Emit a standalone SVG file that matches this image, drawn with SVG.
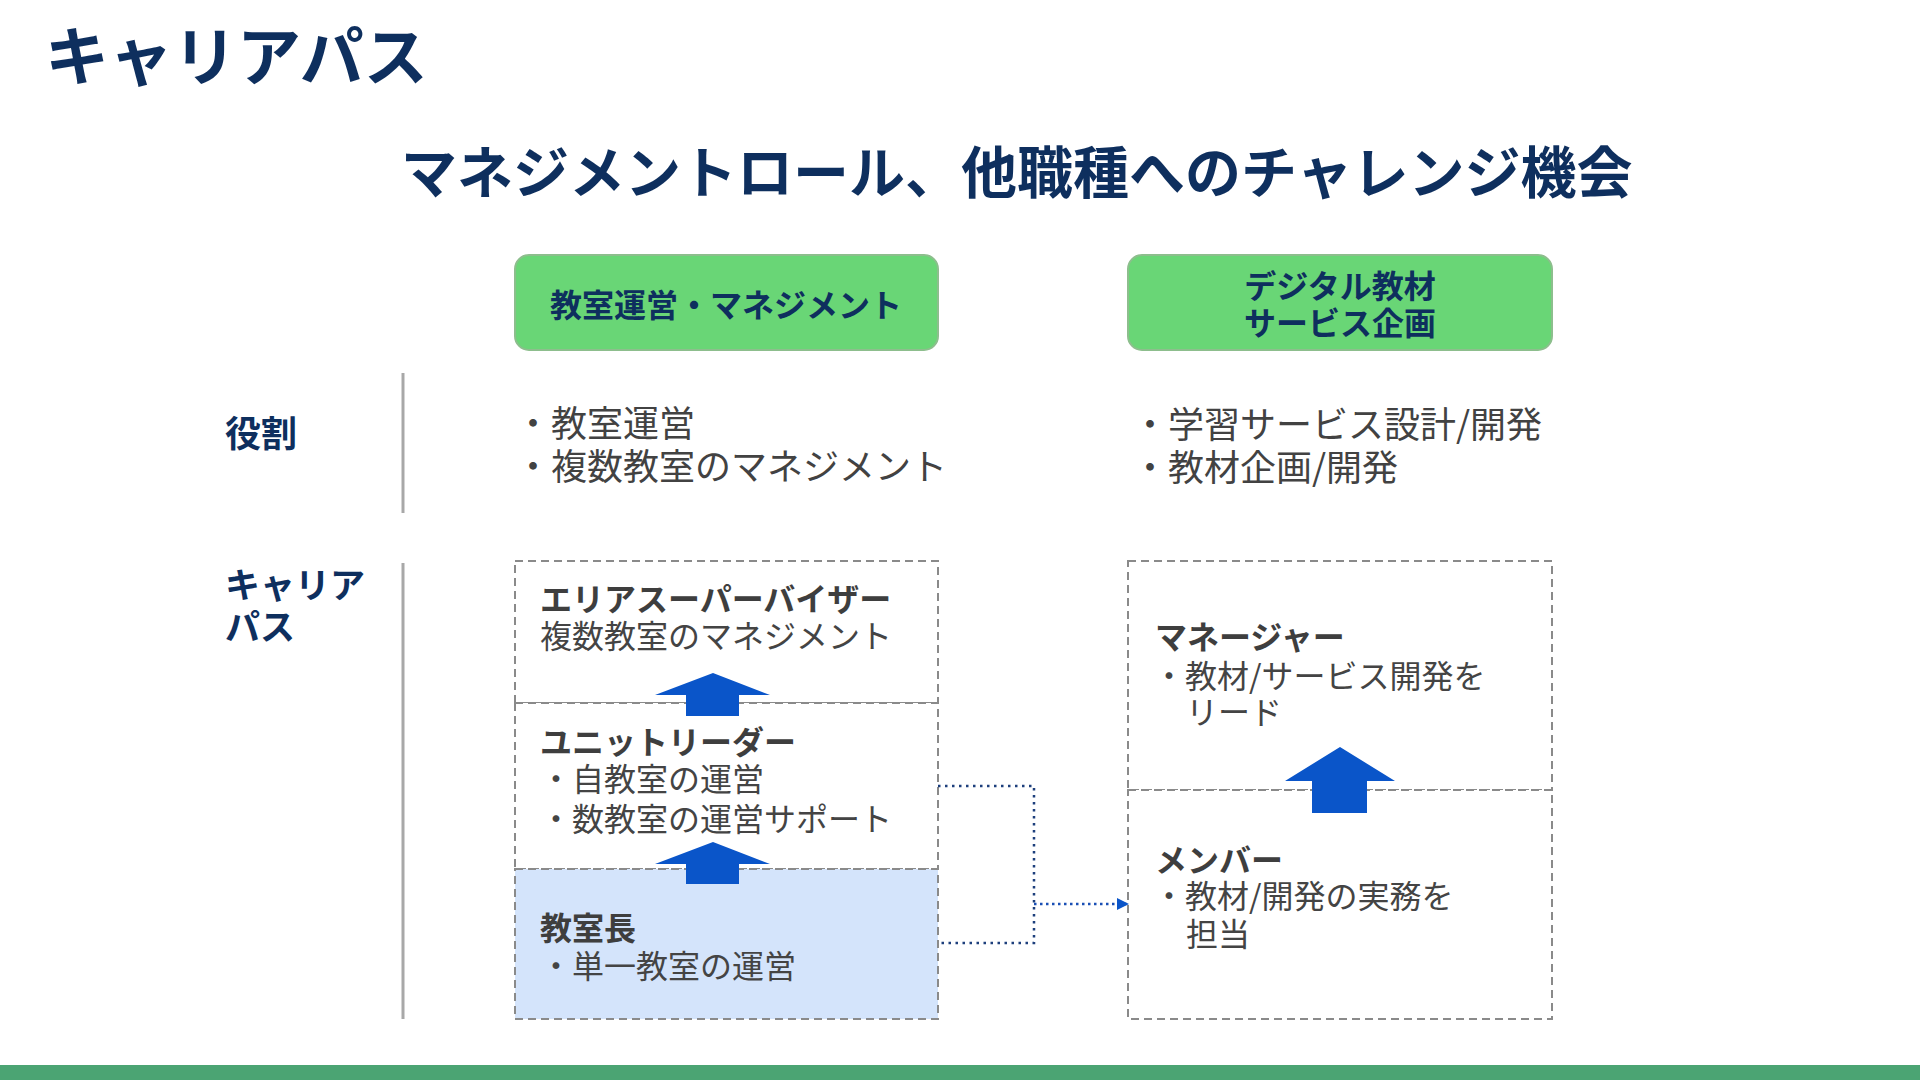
<svg xmlns="http://www.w3.org/2000/svg" width="1920" height="1080" viewBox="0 0 1920 1080">
<style>
text{font-family:"Noto Sans CJK JP","Noto Sans",sans-serif}
.navy{fill:#0E2F5E;font-weight:700}
.hd{fill:#0E2F5E;font-weight:700;font-size:32px}
.body{fill:#424242;font-size:36px}
.cb{fill:#3E3E3E;font-size:32px;font-weight:700}
.ct{fill:#444;font-size:32px}
.green{fill:#69D676;stroke:#8DBE8D;stroke-width:2}
.dbox{fill:#FFFFFF;stroke:#8A8A8A;stroke-width:2;stroke-dasharray:8 5}
.vline{stroke:#A8A8A8;stroke-width:3}
.up{fill:#0A55C9}
</style>
<defs>
<marker id="ah" markerWidth="12" markerHeight="12" refX="11" refY="6" orient="auto" markerUnits="userSpaceOnUse">
<path d="M0,0 L12,6 L0,12 z" fill="#0A55C9"/>
</marker>
</defs>
<rect width="1920" height="1080" fill="#FFFFFF"/>
<text x="45" y="80" class="navy" font-size="64">キャリアパス</text>
<text x="401" y="193" class="navy" font-size="56">マネジメントロール、他職種へのチャレンジ機会</text>

<g id="header-management">
<rect class="green" x="515" y="255" width="423" height="95" rx="14"/>
<text class="hd" x="726" y="317" text-anchor="middle">教室運営・マネジメント</text>
</g>
<g id="header-digital">
<rect class="green" x="1128" y="255" width="424" height="95" rx="14"/>
<text class="hd" x="1340" y="298" text-anchor="middle">デジタル教材</text>
<text class="hd" x="1340" y="335" text-anchor="middle">サービス企画</text>
</g>

<g id="label-role">
<text class="navy" x="225" y="447" font-size="36">役割</text>
<line class="vline" x1="403" y1="373" x2="403" y2="513"/>
</g>
<g id="role-management">
<text class="body" x="515" y="437">・教室運営</text>
<text class="body" x="515" y="480">・複数教室のマネジメント</text>
</g>
<g id="role-digital">
<text class="body" x="1132" y="438">・学習サービス設計/開発</text>
<text class="body" x="1132" y="481">・教材企画/開発</text>
</g>

<g id="label-career">
<text class="navy" x="225" y="598" font-size="35">キャリア</text>
<text class="navy" x="225" y="640" font-size="35">パス</text>
<line class="vline" x1="403" y1="563" x2="403" y2="1019"/>
</g>

<g id="node-area-supervisor">
<rect class="dbox" x="515" y="561" width="423" height="142"/>
<text class="cb" x="540" y="611">エリアスーパーバイザー</text>
<text class="ct" x="540" y="648">複数教室のマネジメント</text>
</g>
<g id="node-unit-leader">
<rect class="dbox" x="515" y="703" width="423" height="166"/>
<text class="cb" x="540" y="754">ユニットリーダー</text>
<text class="ct" x="540" y="791">・自教室の運営</text>
<text class="ct" x="540" y="831">・数教室の運営サポート</text>
</g>
<g id="node-classroom-head">
<rect class="dbox" x="515" y="869" width="423" height="150" style="fill:#D4E4FB"/>
<text class="cb" x="540" y="940">教室長</text>
<text class="ct" x="540" y="978">・単一教室の運営</text>
</g>
<g id="node-manager">
<rect class="dbox" x="1128" y="561" width="424" height="229"/>
<text class="cb" x="1155" y="649">マネージャー</text>
<text class="ct" x="1153" y="688">・教材/サービス開発を</text>
<text class="ct" x="1186" y="724">リード</text>
</g>
<g id="node-member">
<rect class="dbox" x="1128" y="790" width="424" height="229"/>
<text class="cb" x="1155" y="872">メンバー</text>
<text class="ct" x="1153" y="908">・教材/開発の実務を</text>
<text class="ct" x="1186" y="946">担当</text>
</g>

<g id="connectors">
<path class="up" d="M713,673 L770,695 L739,695 L739,716 L686,716 L686,695 L655,695 Z"/>
<path class="up" d="M713,842 L770,864 L739,864 L739,884 L686,884 L686,864 L655,864 Z"/>
<path class="up" d="M1340,747 L1395,781 L1367,781 L1367,813 L1312,813 L1312,781 L1285,781 Z"/>
<polyline points="938,786 1034,786 1034,943 938,943" fill="none" stroke="#1D3F7C" stroke-width="2.5" stroke-dasharray="2.5 4.5"/>
<line x1="1034" y1="904" x2="1128" y2="904" stroke="#1A4FB5" stroke-width="2.5" stroke-dasharray="2.5 3.5" marker-end="url(#ah)"/>
</g>

<rect x="0" y="1065" width="1920" height="15" fill="#4BA473"/>
</svg>
